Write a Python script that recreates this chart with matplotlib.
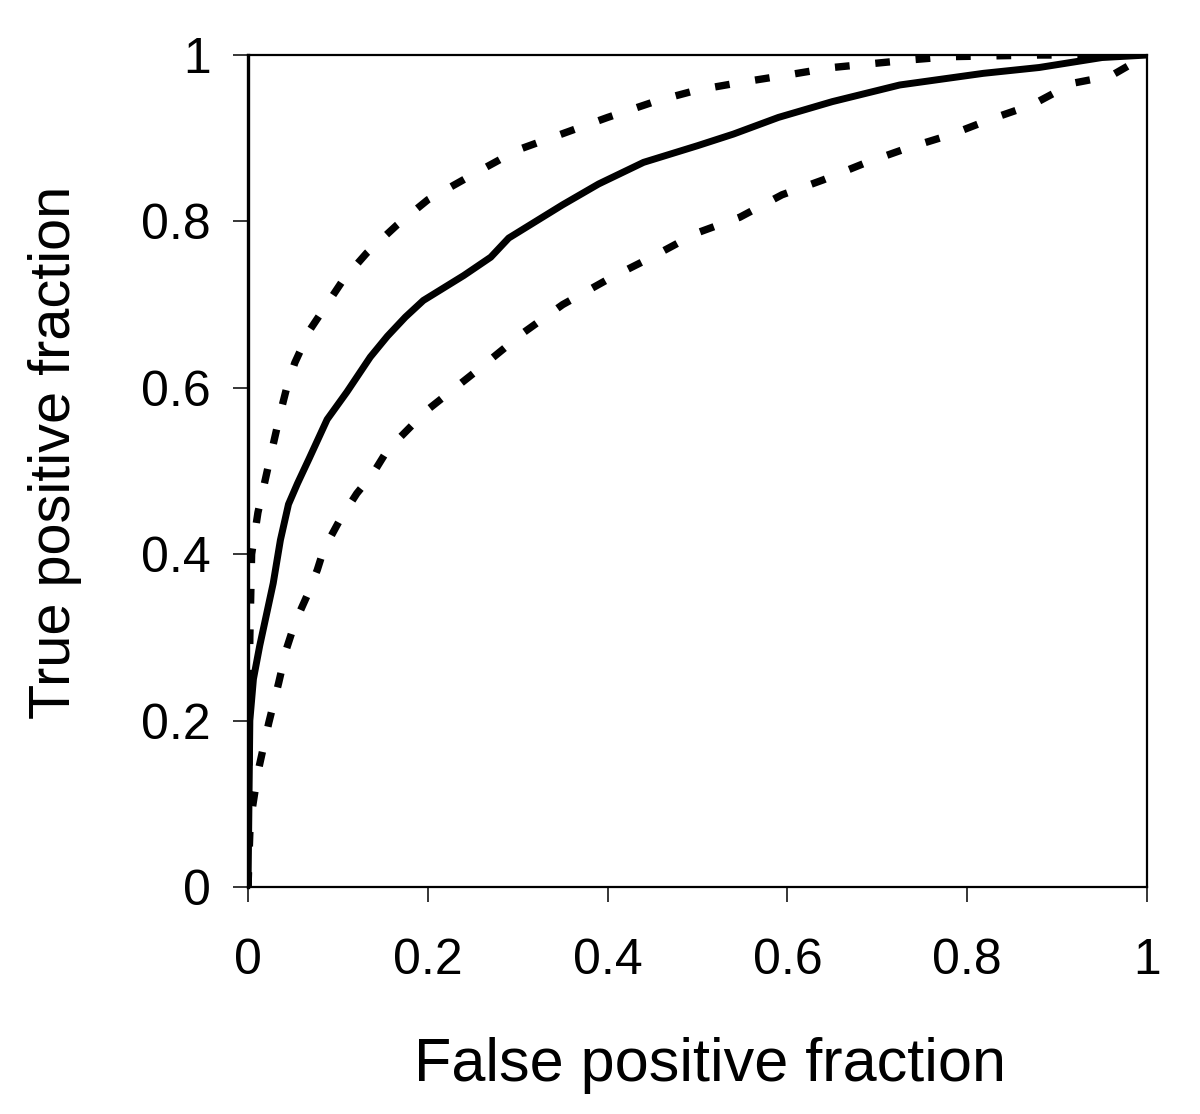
import matplotlib
matplotlib.use("Agg")
import matplotlib.pyplot as plt

# ROC curve (solid) and its confidence bounds (dashed)
fpf_mid = [0, 0.002, 0.006, 0.013, 0.021, 0.028, 0.036, 0.045, 0.055, 0.068, 0.088, 0.11, 0.136,
           0.155, 0.175, 0.195, 0.24, 0.27, 0.29, 0.314, 0.35, 0.39, 0.44, 0.5, 0.54, 0.59, 0.65,
           0.725, 0.818, 0.88, 0.95, 1.0]
tpf_mid = [0, 0.2, 0.25, 0.29, 0.33, 0.365, 0.417, 0.46, 0.485, 0.515, 0.562, 0.595, 0.637,
           0.662, 0.685, 0.705, 0.735, 0.757, 0.78, 0.796, 0.82, 0.845, 0.871, 0.891, 0.905, 0.925,
           0.944, 0.964, 0.978, 0.985, 0.997, 1.0]

fpf_up = [0, 0.002, 0.004, 0.011, 0.024, 0.036, 0.043, 0.052, 0.069, 0.106, 0.132, 0.166, 0.2,
          0.256, 0.30, 0.40, 0.455, 0.50, 0.553, 0.60, 0.65, 0.735, 0.78, 0.88, 1.0]
tpf_up = [0, 0.3, 0.4, 0.45, 0.513, 0.57, 0.60, 0.63, 0.67, 0.73, 0.762, 0.796, 0.826,
          0.86, 0.886, 0.925, 0.945, 0.958, 0.968, 0.976, 0.985, 0.994, 0.998, 1.0, 1.0]

fpf_lo = [0, 0.002, 0.004, 0.011, 0.023, 0.034, 0.043, 0.052, 0.066, 0.077, 0.084, 0.102, 0.121,
          0.139, 0.155, 0.199, 0.255, 0.306, 0.35, 0.403, 0.449, 0.499, 0.547, 0.594, 0.64,
          0.686, 0.733, 0.781, 0.829, 0.872, 0.917, 0.96, 1.0]
tpf_lo = [0, 0.065, 0.089, 0.138, 0.197, 0.245, 0.287, 0.317, 0.351, 0.381, 0.405, 0.441, 0.473,
          0.497, 0.525, 0.573, 0.621, 0.666, 0.70, 0.732, 0.757, 0.786, 0.805, 0.832, 0.85,
          0.87, 0.888, 0.904, 0.924, 0.94, 0.966, 0.975, 1.0]

ticks = [0, 0.2, 0.4, 0.6, 0.8, 1]
tick_labels = ["0", "0.2", "0.4", "0.6", "0.8", "1"]

plt.rcParams['font.family'] = ['Liberation Sans', 'DejaVu Sans']

fig = plt.figure(figsize=(12, 11.14), dpi=100)
ax = fig.add_axes([0.2067, 0.2038, 0.9558 - 0.2067, 0.9506 - 0.2038])

ax.plot(fpf_mid, tpf_mid, color='black', lw=5.0, solid_capstyle='butt', solid_joinstyle='round')
ax.plot(fpf_up, tpf_up, color='black', lw=5.3, dashes=(2.0, 3.5), dash_capstyle='butt')
ax.plot(fpf_lo, tpf_lo, color='black', lw=5.3, dashes=(2.0, 3.5), dash_capstyle='butt')

ax.set_xlim(0, 1)
ax.set_ylim(0, 1)
ax.set_xticks(ticks)
ax.set_xticklabels(tick_labels)
ax.set_yticks(ticks)
ax.set_yticklabels(tick_labels)
ax.tick_params(axis='x', direction='out', length=11, width=1.1, pad=26, labelsize=36)
ax.tick_params(axis='y', direction='out', length=11, width=1.1, pad=16, labelsize=36)

for side in ['top', 'right', 'bottom']:
    ax.spines[side].set_linewidth(1.6)
ax.spines['left'].set_linewidth(2.4)

fig.text(0.592, 0.030, "False positive fraction", ha='center', va='baseline', fontsize=44)
fig.text(0.046, 0.594, "True positive fraction", ha='center', va='center', rotation=90, fontsize=41.5)

fig.savefig("out.png", dpi=100)
